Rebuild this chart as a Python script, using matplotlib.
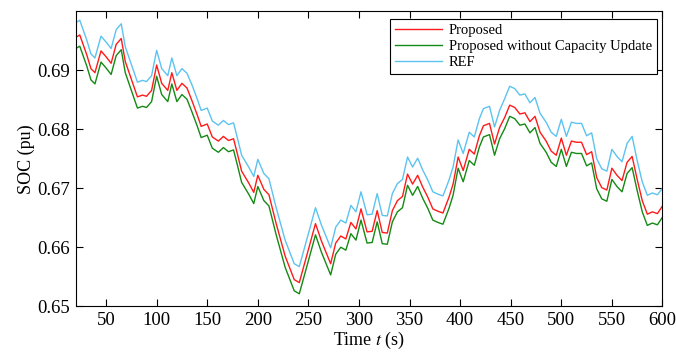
import numpy as np
from matplotlib import pyplot as plt

# time stamps (s)
t = [20, 24, 31, 35, 39, 45, 50, 55, 60, 65, 69, 76, 81, 86, 90, 95, 100, 105, 111, 115,
     120, 125, 130, 135, 140, 144, 150, 155, 161, 166, 171, 176, 180, 184, 191, 196, 200, 206, 211, 218,
     227, 236, 241, 250, 257, 263, 272, 277, 282, 287, 292, 297, 302, 308, 313, 318, 323, 328, 333, 338,
     343, 348, 353, 358, 363, 368, 373, 378, 383, 389, 393, 398, 403, 409, 414, 419, 423, 429, 434, 439,
     444, 449, 454, 459, 464, 469, 474, 479, 485, 490, 495, 500, 505, 510, 515, 520, 525, 530, 535, 540,
     545, 550, 555, 560, 565, 570, 575, 580, 585, 590, 595, 600]

ref = [0.6981, 0.6985, 0.6951, 0.6928, 0.6921, 0.6958, 0.6948, 0.6937, 0.6969, 0.6979, 0.6940, 0.6905, 0.6880, 0.6883, 0.6881, 0.6891, 0.6934, 0.6903, 0.6891, 0.6921,
       0.6891, 0.6903, 0.6895, 0.6875, 0.6852, 0.6832, 0.6836, 0.6814, 0.6807, 0.6815, 0.6808, 0.6811, 0.6784, 0.6756, 0.6736, 0.6720, 0.6749, 0.6725, 0.6716, 0.6668,
       0.6612, 0.6572, 0.6567, 0.6623, 0.6667, 0.6637, 0.6599, 0.6634, 0.6646, 0.6641, 0.6671, 0.6660, 0.6694, 0.6655, 0.6656, 0.6691, 0.6654, 0.6653, 0.6691, 0.6708,
       0.6715, 0.6753, 0.6736, 0.6751, 0.6731, 0.6714, 0.6694, 0.6690, 0.6687, 0.6714, 0.6736, 0.6782, 0.6759, 0.6795, 0.6787, 0.6818, 0.6835, 0.6839, 0.6804, 0.6832,
       0.6852, 0.6873, 0.6869, 0.6858, 0.6860, 0.6845, 0.6854, 0.6827, 0.6812, 0.6795, 0.6788, 0.6817, 0.6788, 0.6812, 0.6810, 0.6810, 0.6789, 0.6794, 0.6750, 0.6733,
       0.6729, 0.6766, 0.6754, 0.6745, 0.6776, 0.6788, 0.6747, 0.6711, 0.6688, 0.6692, 0.6689, 0.6700]

proposed = [0.6956, 0.6960, 0.6926, 0.6903, 0.6896, 0.6933, 0.6923, 0.6912, 0.6944, 0.6954, 0.6915, 0.6880, 0.6855, 0.6858, 0.6856, 0.6866, 0.6909, 0.6878, 0.6866, 0.6896,
            0.6866, 0.6878, 0.6870, 0.6848, 0.6825, 0.6805, 0.6809, 0.6787, 0.6780, 0.6788, 0.6781, 0.6784, 0.6757, 0.6729, 0.6709, 0.6693, 0.6722, 0.6698, 0.6689, 0.6641,
            0.6585, 0.6545, 0.6540, 0.6596, 0.6640, 0.6610, 0.6572, 0.6607, 0.6619, 0.6614, 0.6642, 0.6631, 0.6665, 0.6626, 0.6627, 0.6662, 0.6625, 0.6624, 0.6662, 0.6679,
            0.6686, 0.6724, 0.6707, 0.6722, 0.6702, 0.6685, 0.6665, 0.6661, 0.6658, 0.6685, 0.6707, 0.6753, 0.6730, 0.6766, 0.6758, 0.6789, 0.6806, 0.6810, 0.6775, 0.6803,
            0.6820, 0.6841, 0.6837, 0.6826, 0.6828, 0.6813, 0.6822, 0.6795, 0.6780, 0.6763, 0.6756, 0.6785, 0.6756, 0.6780, 0.6778, 0.6778, 0.6757, 0.6762, 0.6718, 0.6701,
            0.6697, 0.6734, 0.6722, 0.6713, 0.6744, 0.6754, 0.6715, 0.6679, 0.6656, 0.6660, 0.6657, 0.6670]

no_update = [0.6937, 0.6941, 0.6907, 0.6884, 0.6877, 0.6914, 0.6904, 0.6893, 0.6925, 0.6935, 0.6896, 0.6861, 0.6836, 0.6839, 0.6837, 0.6847, 0.6890, 0.6859, 0.6847, 0.6877,
             0.6847, 0.6859, 0.6851, 0.6829, 0.6806, 0.6786, 0.6790, 0.6768, 0.6761, 0.6769, 0.6762, 0.6765, 0.6738, 0.6710, 0.6690, 0.6674, 0.6703, 0.6679, 0.6670, 0.6622,
             0.6566, 0.6526, 0.6521, 0.6577, 0.6621, 0.6591, 0.6553, 0.6588, 0.6600, 0.6595, 0.6623, 0.6612, 0.6646, 0.6607, 0.6608, 0.6643, 0.6606, 0.6605, 0.6643, 0.6660,
             0.6667, 0.6705, 0.6688, 0.6703, 0.6683, 0.6666, 0.6646, 0.6642, 0.6639, 0.6666, 0.6688, 0.6734, 0.6711, 0.6747, 0.6739, 0.6770, 0.6787, 0.6791, 0.6756, 0.6784,
             0.6801, 0.6822, 0.6818, 0.6807, 0.6809, 0.6794, 0.6803, 0.6776, 0.6761, 0.6744, 0.6737, 0.6766, 0.6737, 0.6761, 0.6759, 0.6759, 0.6738, 0.6743, 0.6699, 0.6682,
             0.6678, 0.6715, 0.6703, 0.6694, 0.6725, 0.6735, 0.6696, 0.6660, 0.6637, 0.6641, 0.6638, 0.6651]

xticks = np.arange(50, 601, 50)
yticks = [0.65, 0.66, 0.67, 0.68, 0.69]

plt.rcParams['font.family'] = ['Liberation Serif', 'DejaVu Serif']
plt.rcParams['mathtext.fontset'] = 'stix'

fig = plt.figure(figsize=(6.76, 3.56), dpi=100)
ax = fig.add_axes([0.112, 0.14, 0.868, 0.828])

ax.plot(t, proposed, color='#ff1a1a', lw=1.0, label='Proposed')
ax.plot(t, no_update, color='#138a13', lw=1.0, label='Proposed without Capacity Update')
ax.plot(t, ref, color='#5cc3f0', lw=1.0, label='REF')

ax.set_xlim(20, 600)
ax.set_ylim(0.65, 0.70)
ax.set_xticks(xticks)
ax.set_yticks(yticks)
ax.set_yticklabels(['%.2f' % v for v in yticks])
ax.tick_params(direction='in', top=True, right=True, labelsize=13.5, length=5, pad=4)

ax.set_xlabel('Time $t$ (s)', fontsize=13, labelpad=1)
ax.set_ylabel('SOC (pu)', fontsize=13, labelpad=2)

leg = ax.legend(loc='upper right', bbox_to_anchor=(0.991, 0.975), borderaxespad=0,
                fontsize=10.5, fancybox=False, edgecolor='black', framealpha=1,
                handlelength=3.2, borderpad=0.35, labelspacing=0.2, handletextpad=0.5)
leg.get_frame().set_linewidth(0.8)

plt.savefig('out.png', dpi=100)
